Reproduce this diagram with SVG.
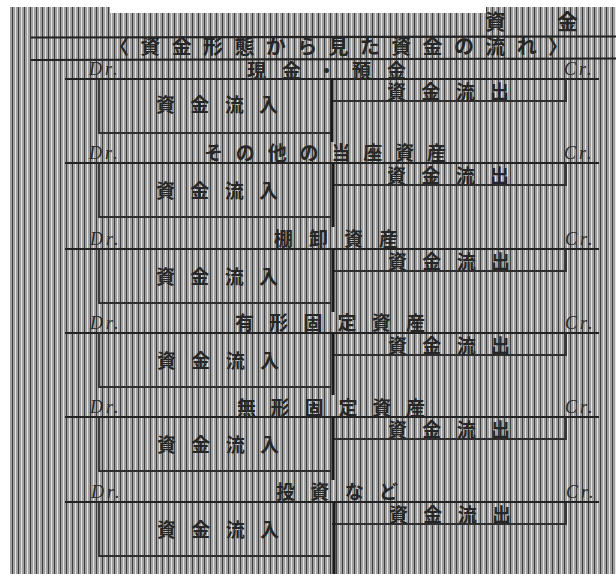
<svg xmlns="http://www.w3.org/2000/svg" width="616" height="574" viewBox="0 0 616 574">
<style>
.jp{font-family:"Noto Sans CJK JP","Noto Sans CJK SC",sans-serif;fill:#262626;font-weight:bold}
.hd{font-size:19px}
.bx{font-size:19px}
.it{font-family:"Liberation Serif",serif;font-style:italic;font-size:18px;letter-spacing:3px;fill:#2a2a2a}
.ln{stroke:#222;stroke-width:2.2;fill:none}
.bl{stroke:#2e2e2e;stroke-width:1.8;fill:none}
.vc{stroke:#1a1a1a;stroke-width:3;fill:none}
</style>
<defs>
<pattern id="st" width="6" height="10" patternUnits="userSpaceOnUse">
<rect width="6" height="10" fill="#a0a0a0"/>
<rect x="0" width="1" height="10" fill="#3c3c3c"/>
<rect x="3" width="1" height="10" fill="#e4e4e4"/>
</pattern>
<g id="acct">
<line class="ln" x1="65" y1="0" x2="599" y2="0"/>
<polyline class="bl" points="99,0 99,54 331,54"/>
<polyline class="bl" points="332,22 566,22 566,0"/>
</g>
</defs>
<rect width="616" height="574" fill="#fff"/>
<path d="M10,7 H110 V13 H486 V7 H616 V574 H10 Z" fill="url(#st)"/>
<g id="header">
<text class="jp" x="485" y="29" font-size="21" letter-spacing="15">資　金</text>
<line class="ln" x1="31" y1="37.5" x2="616" y2="36.5" stroke-width="2.6"/>
<text class="jp" x="109" y="53.5" font-size="20" textLength="459" lengthAdjust="spacing">〈資金形態から見た資金の流れ〉</text>
<line class="ln" x1="31" y1="60" x2="616" y2="58.5"/>
</g>
<g id="acct1">
<use href="#acct" y="79"/>
<line class="vc" x1="332" y1="79" x2="332" y2="142"/>
<text class="it" x="89" y="75">Dr.</text>
<text class="it" x="564" y="75">Cr.</text>
<text class="jp hd" x="247" y="77.5" textLength="159" lengthAdjust="spacing">現金・預金</text>
<text class="jp bx" x="156" y="112" textLength="122" lengthAdjust="spacing">資金流入</text>
<text class="jp bx" x="387" y="99" textLength="122" lengthAdjust="spacing">資金流出</text>
</g>
<g id="acct2">
<use href="#acct" y="163"/>
<line class="vc" x1="333" y1="163" x2="333" y2="227"/>
<text class="it" x="89" y="159">Dr.</text>
<text class="it" x="564" y="159">Cr.</text>
<text class="jp hd" x="204" y="160" textLength="242" lengthAdjust="spacing">その他の当座資産</text>
<text class="jp bx" x="156" y="198" textLength="122" lengthAdjust="spacing">資金流入</text>
<text class="jp bx" x="387" y="183" textLength="122" lengthAdjust="spacing">資金流出</text>
</g>
<g id="acct3">
<use href="#acct" y="249"/>
<line class="vc" x1="333" y1="249" x2="333" y2="312"/>
<text class="it" x="90" y="245">Dr.</text>
<text class="it" x="565" y="245">Cr.</text>
<text class="jp hd" x="274" y="246" textLength="124" lengthAdjust="spacing">棚卸資産</text>
<text class="jp bx" x="156" y="284" textLength="122" lengthAdjust="spacing">資金流入</text>
<text class="jp bx" x="388" y="269" textLength="122" lengthAdjust="spacing">資金流出</text>
</g>
<g id="acct4">
<use href="#acct" y="333"/>
<line class="vc" x1="333" y1="333" x2="333" y2="395"/>
<text class="it" x="90" y="329">Dr.</text>
<text class="it" x="565" y="329">Cr.</text>
<text class="jp hd" x="235" y="330" textLength="190" lengthAdjust="spacing">有形固定資産</text>
<text class="jp bx" x="157" y="368" textLength="122" lengthAdjust="spacing">資金流入</text>
<text class="jp bx" x="388" y="353" textLength="122" lengthAdjust="spacing">資金流出</text>
</g>
<g id="acct5">
<use href="#acct" y="417"/>
<line class="vc" x1="333" y1="417" x2="333" y2="480"/>
<text class="it" x="90" y="413">Dr.</text>
<text class="it" x="565" y="413">Cr.</text>
<text class="jp hd" x="237" y="415" textLength="188" lengthAdjust="spacing">無形固定資産</text>
<text class="jp bx" x="157" y="452" textLength="122" lengthAdjust="spacing">資金流入</text>
<text class="jp bx" x="388" y="437" textLength="122" lengthAdjust="spacing">資金流出</text>
</g>
<g id="acct6">
<use href="#acct" y="502"/>
<line class="vc" x1="334" y1="502" x2="334" y2="574"/>
<text class="it" x="91" y="498">Dr.</text>
<text class="it" x="566" y="498">Cr.</text>
<text class="jp hd" x="276" y="499" textLength="122" lengthAdjust="spacing">投資など</text>
<text class="jp bx" x="157" y="537" textLength="122" lengthAdjust="spacing">資金流入</text>
<text class="jp bx" x="389" y="522" textLength="122" lengthAdjust="spacing">資金流出</text>
</g>
</svg>
